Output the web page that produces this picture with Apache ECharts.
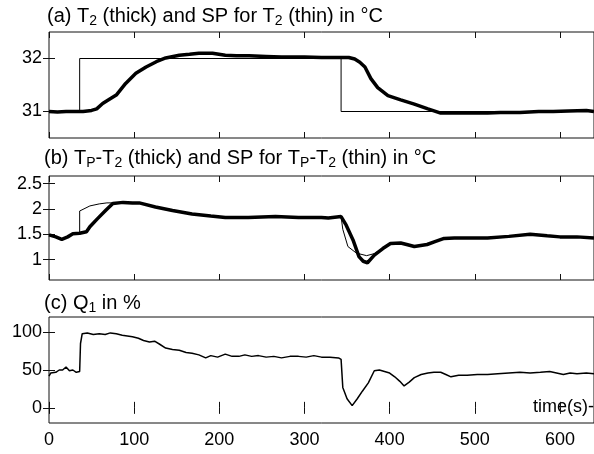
<!DOCTYPE html>
<html>
<head>
<meta charset="utf-8">
<script src="https://cdn.jsdelivr.net/npm/echarts@6/dist/echarts.min.js"></script>
<style>
  html, body { margin: 0; padding: 0; background: #fff; }
  #chart { width: 594px; height: 454px; }
</style>
</head>
<body>
<div id="chart"></div>
<script>
// time axis ticks (s)
const timeTicks = [0, 100, 200, 300, 400, 500, 600];

// (a) T2 measured (thick) and its set point (thin), degC
const tT2 = [0, 10, 20, 30, 40, 50, 56, 63, 70, 79, 90, 102, 114, 126, 137, 153, 165, 176, 192, 207, 220, 235, 255, 273, 290, 300, 320, 340, 352, 359, 365, 371, 378, 386, 398, 413, 429, 445, 460, 478, 495, 515, 530, 553, 575, 592, 610, 631, 640];
const vT2 = [31.0, 30.99, 31.0, 31.0, 31.0, 31.02, 31.05, 31.15, 31.22, 31.31, 31.53, 31.72, 31.84, 31.94, 32.01, 32.06, 32.08, 32.1, 32.1, 32.06, 32.05, 32.05, 32.04, 32.03, 32.03, 32.03, 32.02, 32.02, 32.02, 31.99, 31.93, 31.84, 31.62, 31.45, 31.3, 31.22, 31.14, 31.05, 30.97, 30.97, 30.97, 30.97, 30.98, 30.98, 31.0, 31.0, 31.01, 31.02, 31.0];
const tSpT2 = [0, 36, 36, 343, 343, 640];
const vSpT2 = [31, 31, 32, 32, 31, 31];

// (b) Tp-T2 measured (thick) and its set point (thin), degC
const tDiff = [0, 8, 15, 22, 28, 36, 44, 48, 57, 67, 75, 87, 98, 106, 125, 145, 168, 190, 207, 234, 266, 293, 320, 328, 343, 349, 357, 364, 369, 374, 382, 392, 401, 413, 420, 429, 444, 454, 464, 476, 495, 515, 540, 565, 585, 600, 620, 640];
const vDiff = [1.49, 1.45, 1.4, 1.45, 1.51, 1.52, 1.55, 1.65, 1.81, 1.98, 2.11, 2.13, 2.12, 2.12, 2.04, 1.97, 1.9, 1.86, 1.83, 1.83, 1.85, 1.83, 1.83, 1.82, 1.85, 1.68, 1.39, 1.06, 0.97, 0.94, 1.09, 1.22, 1.32, 1.33, 1.3, 1.26, 1.3, 1.36, 1.42, 1.43, 1.43, 1.43, 1.46, 1.5, 1.47, 1.45, 1.45, 1.43];
const tSpDiff = [0, 8, 15, 22, 28, 36, 36, 48, 59, 68, 75, 87, 98, 106, 125, 145, 168, 190, 207, 234, 266, 293, 320, 328, 343, 345, 351, 361, 373, 382, 392, 401, 413, 420, 429, 444, 454, 464, 476, 495, 515, 540, 565, 585, 600, 620, 640];
const vSpDiff = [1.49, 1.45, 1.4, 1.45, 1.51, 1.52, 1.96, 2.06, 2.1, 2.12, 2.12, 2.13, 2.12, 2.12, 2.04, 1.97, 1.9, 1.86, 1.83, 1.83, 1.85, 1.83, 1.83, 1.82, 1.85, 1.6, 1.26, 1.13, 1.08, 1.12, 1.22, 1.32, 1.33, 1.3, 1.26, 1.3, 1.36, 1.42, 1.43, 1.43, 1.43, 1.46, 1.5, 1.47, 1.45, 1.45, 1.43];

// (c) heater power Q1, %
const tQ1 = [0, 2, 4, 8, 12, 16, 20, 24, 28, 32, 36, 37, 39, 45, 52, 59, 66, 72, 79, 86, 92, 98, 105, 111, 118, 124, 130, 137, 145, 153, 161, 168, 176, 184, 190, 198, 207, 215, 223, 230, 238, 246, 255, 264, 273, 283, 293, 302, 311, 320, 330, 340, 343, 345, 350, 356, 362, 368, 375, 382, 388, 394, 400, 406, 412, 417, 423, 429, 437, 445, 452, 460, 466, 472, 481, 491, 503, 515, 527, 540, 553, 565, 577, 588, 596, 604, 612, 620, 631, 640];
const vQ1 = [42, 46, 48, 47, 50, 50, 54, 49, 50, 47, 48, 85, 98, 99, 97, 98, 97, 99, 98, 96, 95, 94, 92, 89, 87, 88, 84, 79, 77, 76, 73, 72, 70, 66, 69, 67, 71, 68, 68, 70, 68, 69, 67, 68, 66, 68, 68, 67, 69, 67, 67, 66, 64, 27, 12, 3, 12, 22, 33, 49, 50, 48, 46, 41, 35, 29, 34, 40, 44, 46, 47, 47, 44, 41, 43, 43, 44, 44, 45, 46, 47, 46, 47, 48, 46, 44, 46, 45, 46, 45];

const zip = (ts, vs) => ts.map((t, i) => [t, vs[i]]);

const font = 'Liberation Sans, Arial, sans-serif';
const X0 = 49, W = 549;
const panels = [
  {top: 32, height: 106, min: 30.5, max: 32.5, ticks: [31, 32]},
  {top: 176, height: 104, min: 0.6, max: 2.65, ticks: [1, 1.5, 2, 2.5]},
  {top: 317, height: 106, min: -20, max: 120, ticks: [0, 50, 100]}
];

const grid = panels.map(p => ({
  left: X0, top: p.top, width: W, height: p.height,
  show: true, borderColor: '#111', borderWidth: 1, backgroundColor: 'transparent'
}));

const xAxis = [];
const yAxis = [];
panels.forEach((p, i) => {
  ['bottom', 'top'].forEach(pos => {
    xAxis.push({
      type: 'value', gridIndex: i, position: pos, min: 0, max: 640,
      axisLine: {show: false}, splitLine: {show: false},
      axisTick: {inside: true, length: 6, lineStyle: {color: '#111'}, customValues: timeTicks},
      axisLabel: {
        show: i === 2 && pos === 'bottom', customValues: timeTicks,
        color: '#000', fontFamily: font, fontSize: 18, margin: 8
      }
    });
  });
  ['left', 'right'].forEach(pos => {
    yAxis.push({
      type: 'value', gridIndex: i, position: pos, min: p.min, max: p.max,
      axisLine: {show: false}, splitLine: {show: false},
      axisTick: {inside: true, length: 6, lineStyle: {color: '#111'}, customValues: p.ticks},
      axisLabel: {
        show: pos === 'left', customValues: p.ticks,
        color: '#000', fontFamily: font, fontSize: 18, margin: 7
      }
    });
  });
});

const lineSeries = (xi, data, width) => ({
  type: 'line', xAxisIndex: xi * 2, yAxisIndex: xi * 2, data: data,
  showSymbol: false, symbol: 'none', animation: false,
  lineStyle: {color: '#000', width: width}
});

const sub = {fontSize: 14, fontFamily: font, color: '#000', padding: [10, 0, 0, 0]};
const titleStyle = {fontSize: 20, fontWeight: 'normal', fontFamily: font, color: '#000', rich: {s: sub}};

const option = {
  backgroundColor: '#fff',
  animation: false,
  title: [
    {left: 47, top: 4, text: '(a) T{s|2} (thick) and SP for T{s|2} (thin) in °C', textStyle: titleStyle, padding: 0},
    {left: 44, top: 146, text: '(b) T{s|P}-T{s|2} (thick) and SP for T{s|P}-T{s|2} (thin) in °C', textStyle: titleStyle, padding: 0},
    {left: 44, top: 291, text: '(c) Q{s|1} in %', textStyle: titleStyle, padding: 0}
  ],
  grid: grid,
  xAxis: xAxis,
  yAxis: yAxis,
  graphic: [{
    type: 'text', right: 0, top: 398,
    style: {text: 'time(s)-', font: '18px ' + font, fill: '#000'}
  }],
  series: [
    lineSeries(0, zip(tSpT2, vSpT2), 1),
    lineSeries(0, zip(tT2, vT2), 3.5),
    lineSeries(1, zip(tSpDiff, vSpDiff), 1),
    lineSeries(1, zip(tDiff, vDiff), 3.5),
    lineSeries(2, zip(tQ1, vQ1), 1.5)
  ]
};

const myChart = echarts.init(document.getElementById('chart'), null, {renderer: 'canvas'});
myChart.setOption(option);
</script>
</body>
</html>
